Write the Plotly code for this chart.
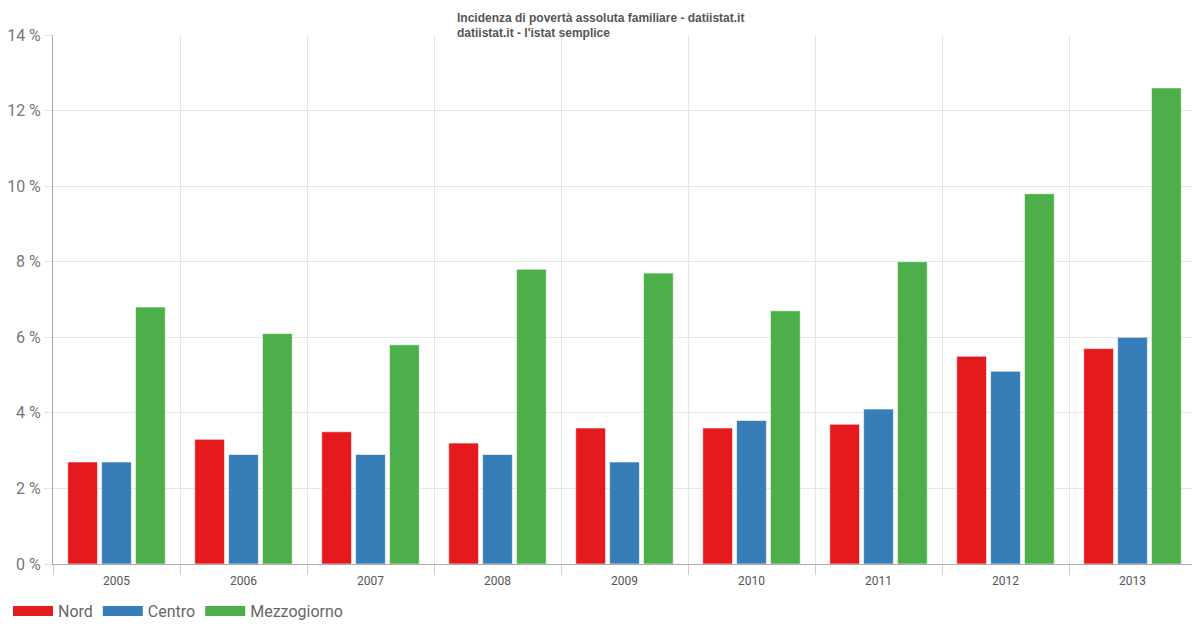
import plotly.graph_objects as go

years = ["2005", "2006", "2007", "2008", "2009", "2010", "2011", "2012", "2013"]
nord = [2.7, 3.3, 3.5, 3.2, 3.6, 3.6, 3.7, 5.5, 5.7]
centro = [2.7, 2.9, 2.9, 2.9, 2.7, 3.8, 4.1, 5.1, 6.0]
mezzogiorno = [6.8, 6.1, 5.8, 7.8, 7.7, 6.7, 8.0, 9.8, 12.6]

series = [("Nord", nord, "#E41A1C"), ("Centro", centro, "#377EB8"), ("Mezzogiorno", mezzogiorno, "#4DAF4A")]

fig = go.Figure()
for name, vals, col in series:
    fig.add_trace(go.Bar(
        x=years, y=vals, name=name, legendgroup=name, showlegend=False,
        marker=dict(color=col, line=dict(color="rgba(255,255,255,0.6)", width=1)),
        hovertemplate="%{x}: %{y} %<extra>" + name + "</extra>",
    ))
# legend-only entries drawn as wide swatches
for name, vals, col in series:
    fig.add_trace(go.Scatter(
        x=[None], y=[None], name=name, legendgroup=name, mode="lines",
        line=dict(color=col, width=16), hoverinfo="skip",
    ))

fig.update_layout(
    width=1192, height=622,
    barmode="group", bargap=0.2, bargroupgap=0.12,
    plot_bgcolor="white", paper_bgcolor="white",
    margin=dict(l=45, r=4, t=27, b=66, autoexpand=False),
    font=dict(family="Roboto, Arial, sans-serif", color="#666"),
    title=dict(
        text="<b>Incidenza di povertà assoluta familiare - datiistat.it<br>datiistat.it - l'istat semplice</b>",
        font=dict(family="Liberation Sans, Arial, sans-serif", size=12, color="#555"),
        xref="container", x=0.3767, xanchor="left",
        yref="container", y=0.9777, yanchor="top",
    ),
    legend=dict(
        orientation="h", xref="container", x=0, xanchor="left", y=-0.057, yanchor="top",
        font=dict(size=16, color="#666"), itemwidth=40,
    ),
    xaxis=dict(
        type="category", tickson="boundaries", automargin=False,
        showgrid=True, gridcolor="#e6e6e6",
        ticks="outside", ticklen=10, tickcolor="#d0d0d0",
        showline=True, linecolor="#aaa",
        tickfont=dict(size=12, color="#555"), ticklabelstandoff=6,
    ),
    yaxis=dict(
        range=[0, 14], dtick=2, ticksuffix=" %", automargin=False,
        showgrid=True, gridcolor="#e6e6e6",
        ticks="outside", ticklen=8, tickcolor="#e6e6e6",
        showline=True, linecolor="#aaa",
        zeroline=False,
        tickfont=dict(size=16, color="#777"),
    ),
)

fig.write_html("out.html")
